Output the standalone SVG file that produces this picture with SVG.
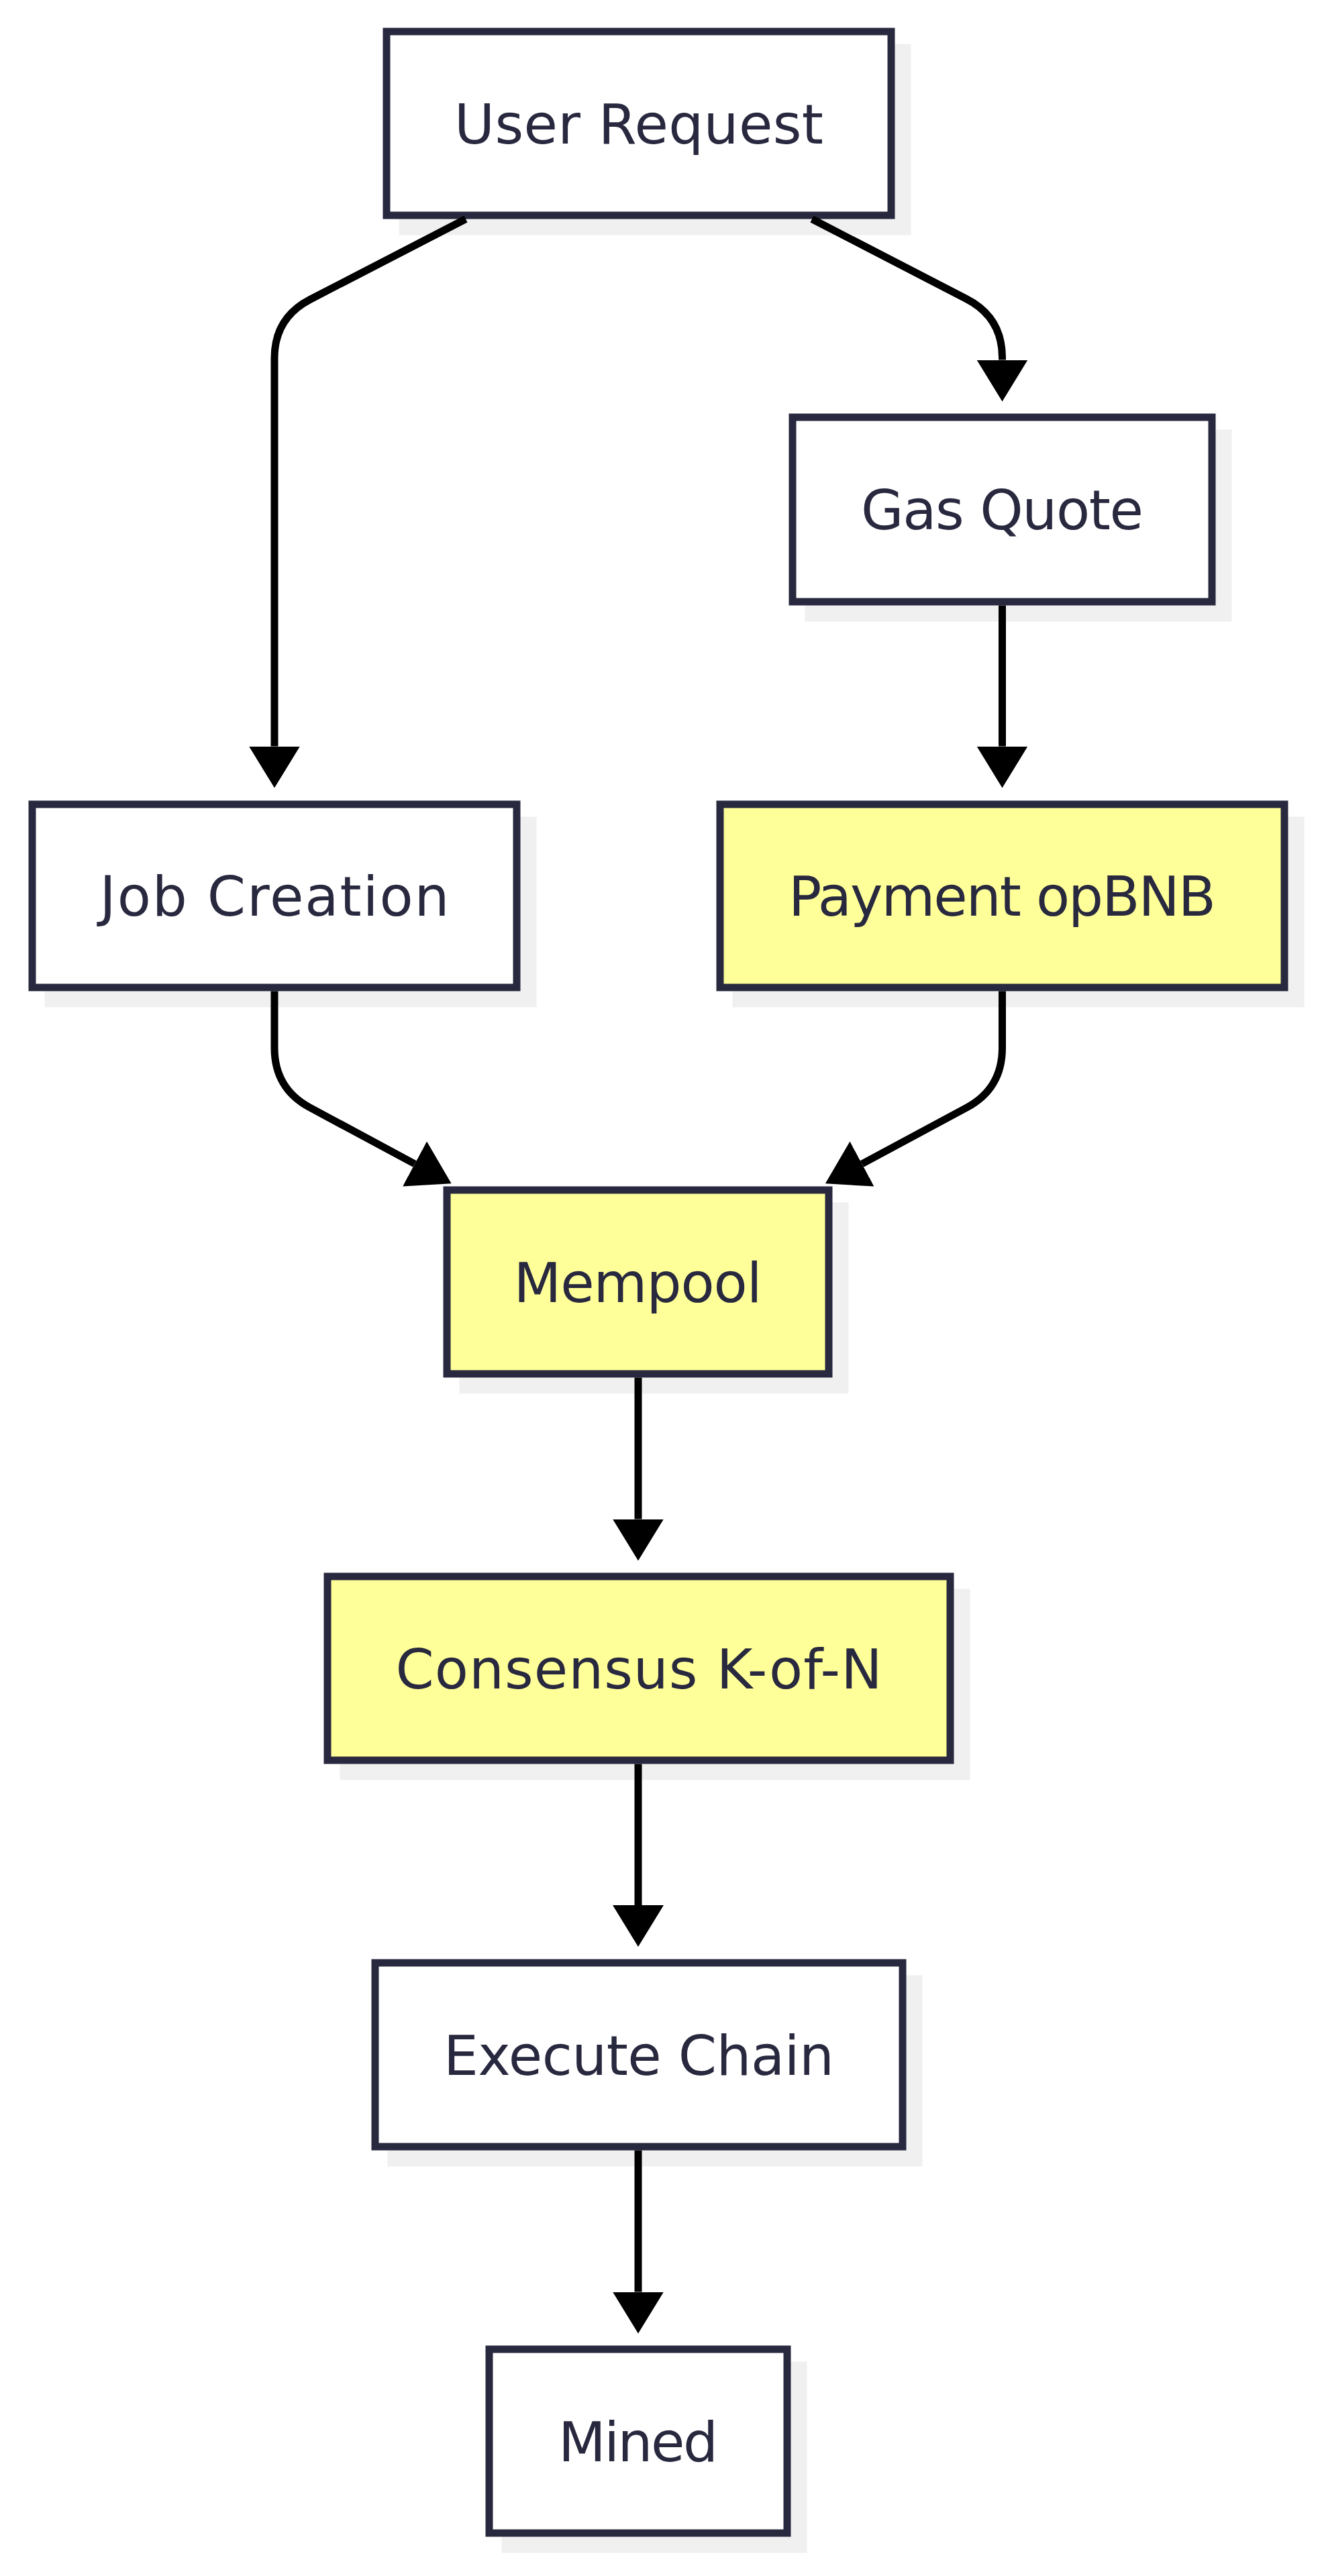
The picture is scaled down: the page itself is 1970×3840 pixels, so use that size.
<svg xmlns="http://www.w3.org/2000/svg" width="1970" height="3840" viewBox="0 0 1970 3840">
  <style>
    .shadow { fill: #f0f0f0; stroke: none; }
    .box { stroke: #28283f; stroke-width: 11; }
    .plain { fill: #ffffff; }
    .hl { fill: #ffff99; }
    .label { font-family: "DejaVu Sans", "Noto Sans", sans-serif; font-size: 82px; fill: #28283f; text-anchor: middle; }
    .edge { fill: none; stroke: #000000; stroke-width: 11; marker-end: url(#arrow); }
  </style>
  <defs>
    <marker id="arrow" markerUnits="userSpaceOnUse" viewBox="0 0 62 76" markerWidth="62" markerHeight="76" refX="0" refY="38" orient="auto">
      <path d="M0 0 L62 38 L0 76 Z" fill="#000000"/>
    </marker>
  </defs>
  <rect width="1970" height="3840" fill="#ffffff"/>

  <g id="node-user-request">
    <rect class="shadow" x="594.5" y="65.5" width="763" height="285"/>
    <rect class="box plain" x="576" y="47" width="752" height="274"/>
    <text class="label" x="952" y="213.5" textLength="550">User Request</text>
  </g>
  <g id="node-gas-quote">
    <rect class="shadow" x="1199.5" y="640.5" width="636" height="286"/>
    <rect class="box plain" x="1181" y="622" width="625" height="275"/>
    <text class="label" x="1493.5" y="789" textLength="421">Gas Quote</text>
  </g>
  <g id="node-job-creation">
    <rect class="shadow" x="66.5" y="1217.5" width="733" height="284"/>
    <rect class="box plain" x="48" y="1199" width="722" height="273"/>
    <text class="label" x="409" y="1365" textLength="521">Job Creation</text>
  </g>
  <g id="node-payment">
    <rect class="shadow" x="1091.5" y="1217.5" width="852" height="284"/>
    <rect class="box hl" x="1073" y="1199" width="841" height="273"/>
    <text class="label" x="1493.5" y="1365" textLength="637">Payment opBNB</text>
  </g>
  <g id="node-mempool">
    <rect class="shadow" x="684.5" y="1792.5" width="580" height="285"/>
    <rect class="box hl" x="666" y="1774" width="569" height="274"/>
    <text class="label" x="950.5" y="1940.5" textLength="370">Mempool</text>
  </g>
  <g id="node-consensus">
    <rect class="shadow" x="506.5" y="2368.5" width="939" height="285"/>
    <rect class="box hl" x="488" y="2350" width="928" height="274"/>
    <text class="label" x="952" y="2516.5" textLength="725">Consensus K-of-N</text>
  </g>
  <g id="node-execute-chain">
    <rect class="shadow" x="577.5" y="2944.5" width="797" height="285"/>
    <rect class="box plain" x="559" y="2926" width="786" height="274"/>
    <text class="label" x="952" y="3092.5" textLength="582">Execute Chain</text>
  </g>
  <g id="node-mined">
    <rect class="shadow" x="747.5" y="3520.5" width="455" height="285"/>
    <rect class="box plain" x="729" y="3502" width="444" height="274"/>
    <text class="label" x="951" y="3668.5" textLength="238">Mined</text>
  </g>

  <g id="connectors">
    <path class="edge" d="M694 326.5 L462 446.5 Q409 474 409 534 L409 1112.5"/>
    <path class="edge" d="M1210 326.5 L1440 445.5 Q1493.5 473 1493.5 533 L1493.5 536.5"/>
    <path class="edge" d="M1493.5 902.5 L1493.5 1112.5"/>
    <path class="edge" d="M409 1477.5 L409 1562 Q409 1622.6 461.8 1651 L618 1735"/>
    <path class="edge" d="M1493.5 1477.5 L1493.5 1562 Q1493.5 1622.6 1440.7 1651 L1284.5 1735"/>
    <path class="edge" d="M951 2053.5 L951 2264.5"/>
    <path class="edge" d="M951 2629.5 L951 2840"/>
    <path class="edge" d="M951 3205.5 L951 3416.5"/>
  </g>
</svg>
